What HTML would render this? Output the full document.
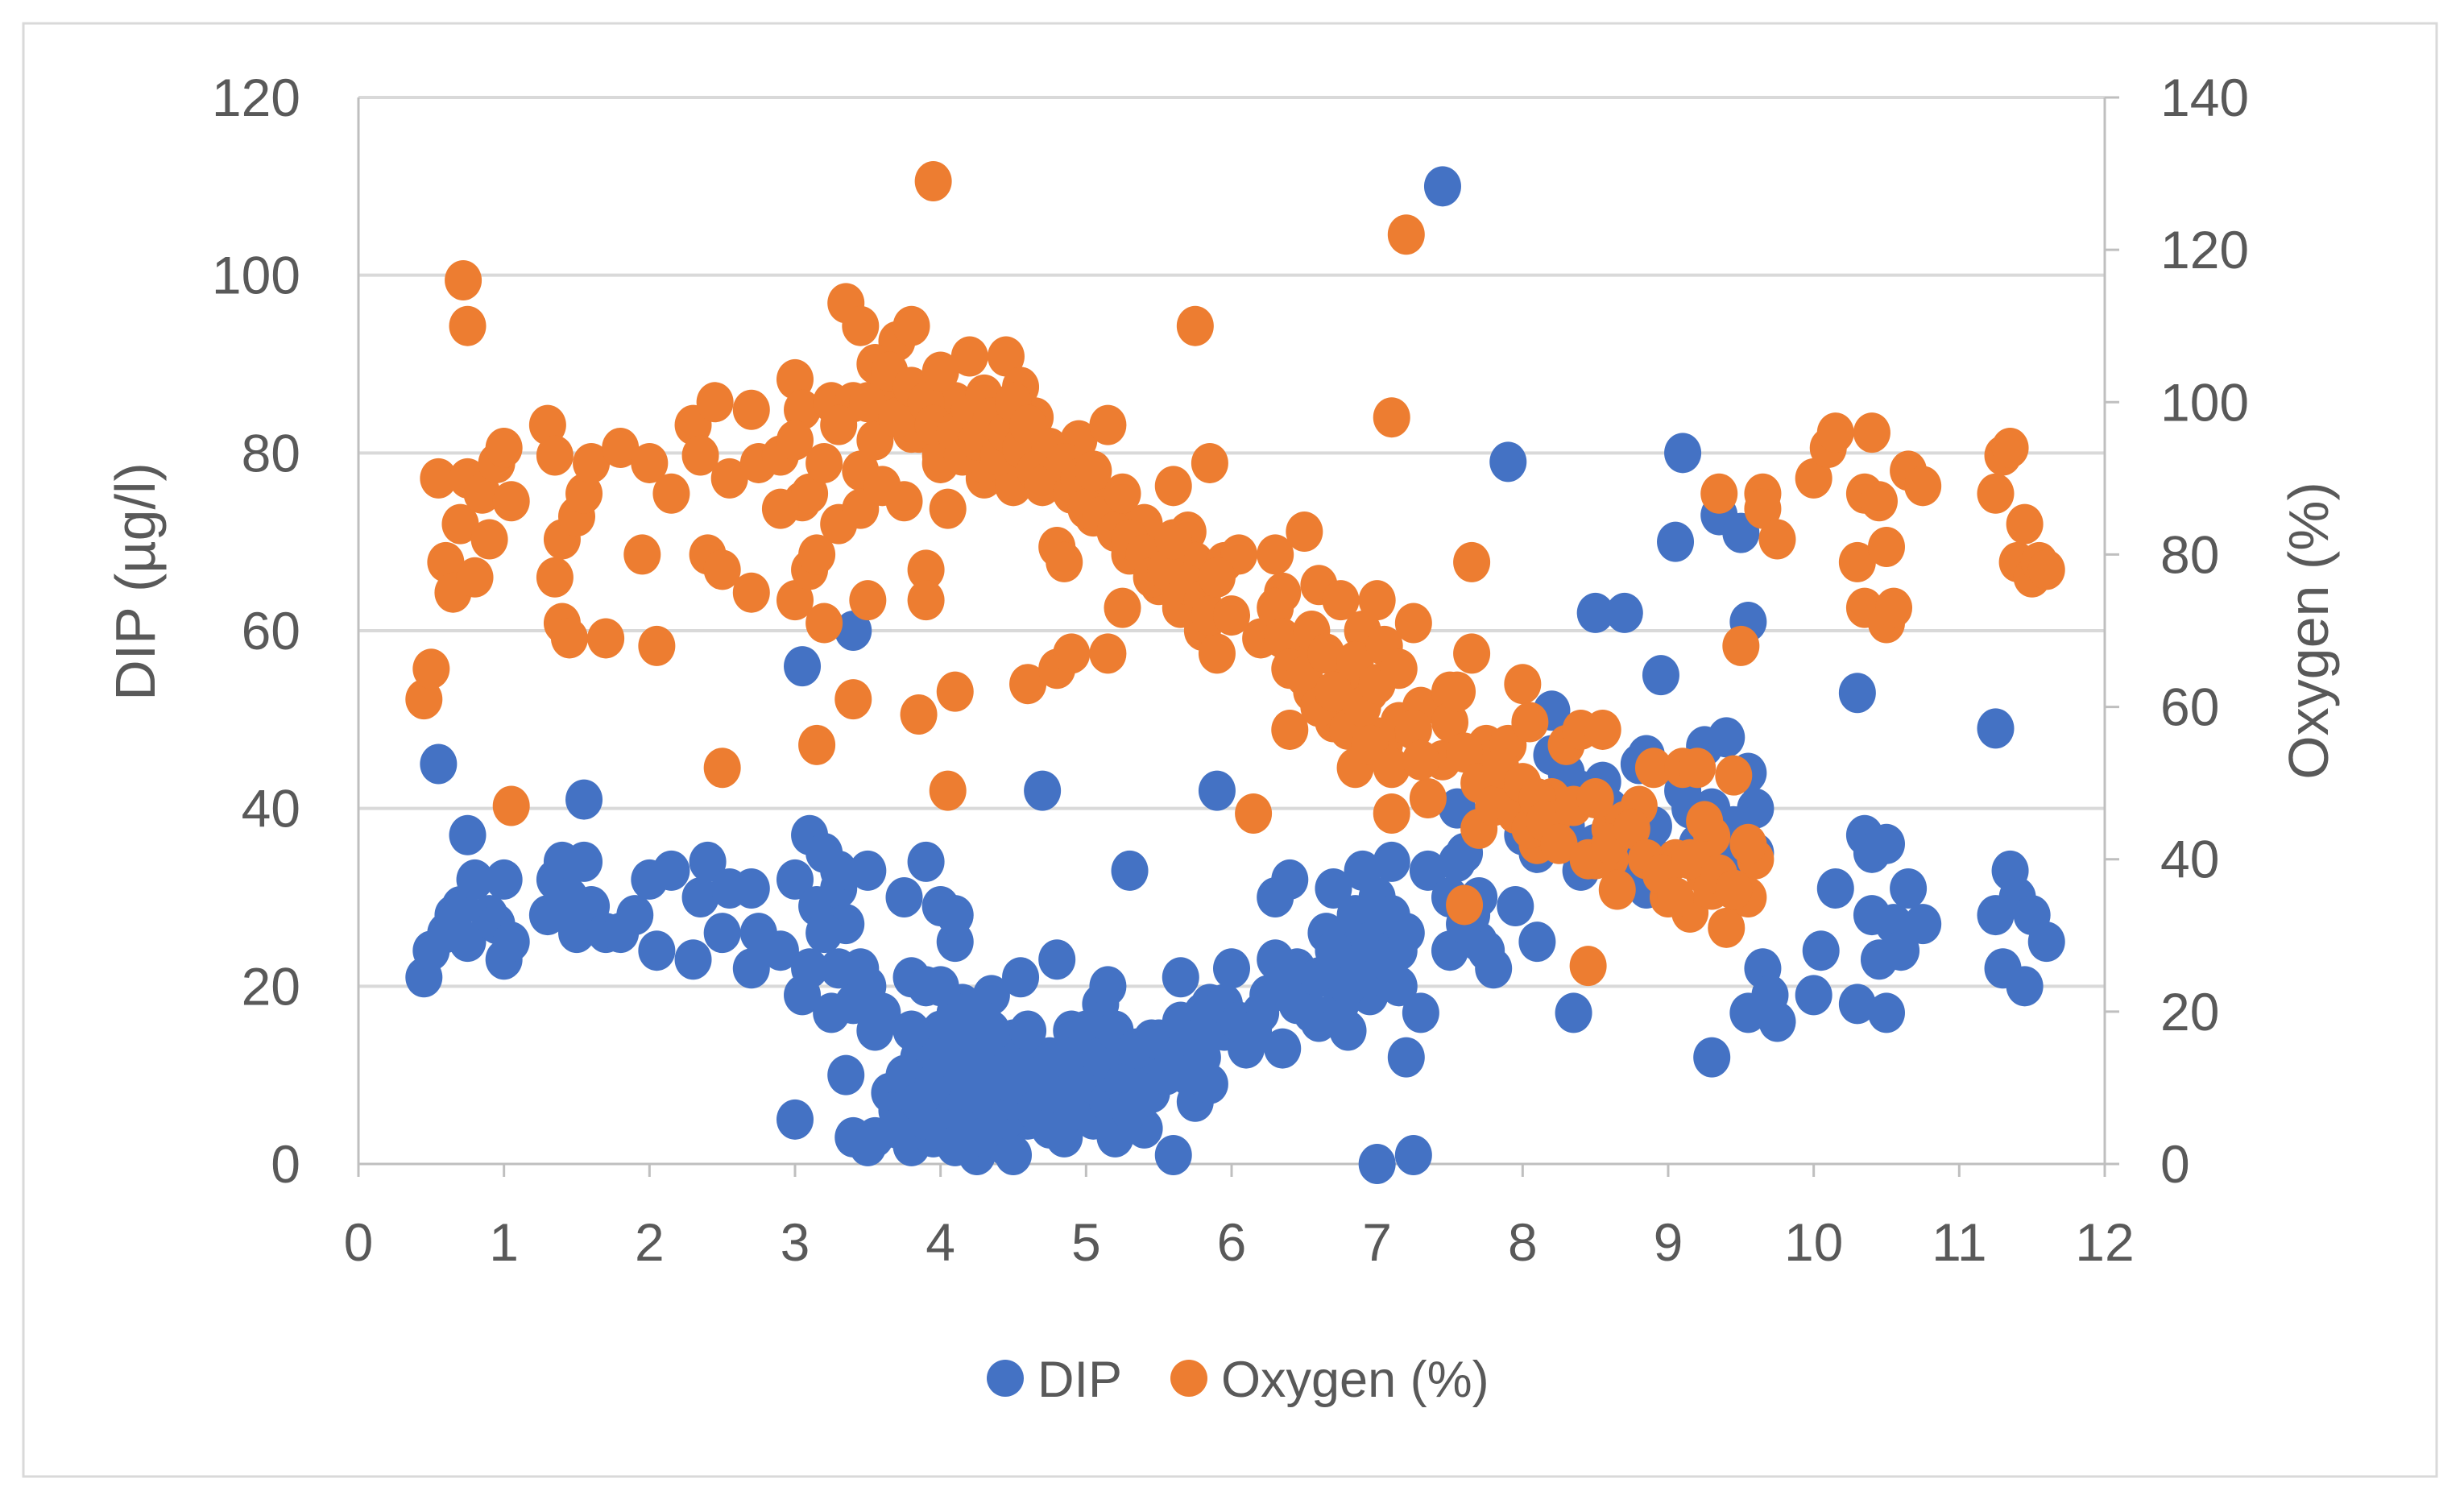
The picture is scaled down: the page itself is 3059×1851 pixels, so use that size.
<!DOCTYPE html>
<html><head><meta charset="utf-8"><style>
html,body{margin:0;padding:0;background:#fff;}
svg{display:block;font-family:"Liberation Sans",sans-serif;}
</style></head><body>
<svg id="chart" width="3059" height="1851" viewBox="0 0 3059 1851">
<rect x="29" y="29" width="2996" height="1804" fill="#fff" stroke="#d9d9d9" stroke-width="3"/>
<g id="grid"></g>
<g id="axes"></g>
<g id="dip"></g>
<g id="oxy"></g>
<text x="192" y="722" transform="rotate(-90 192 722)" text-anchor="middle" font-size="70" fill="#595959">DIP (µg/l)</text>
<text x="2890" y="783" transform="rotate(-90 2890 783)" text-anchor="middle" font-size="70" fill="#595959">Oxygen (%)</text>
<g>
<circle cx="1248" cy="1711" r="23" fill="#4472c4"/>
<text x="1288" y="1734" font-size="63" fill="#595959">DIP</text>
<circle cx="1476" cy="1711" r="23" fill="#ed7d31"/>
<text x="1516" y="1734" font-size="63" fill="#595959">Oxygen (%)</text>
</g>
</svg>
<script>
const xTicks=[0,1,2,3,4,5,6,7,8,9,10,11,12];
const leftTicks=[0,20,40,60,80,100,120];
const rightTicks=[0,20,40,60,80,100,120,140];
const dipX=[0.45,0.5,0.55,0.6,0.65,0.7,0.75,0.75,0.8,0.9,0.95,1.0,1.0,1.05,1.3,1.35,1.4,1.45,1.5,1.55,1.55,1.6,1.7,1.8,1.9,2.0,2.05,2.15,2.3,2.35,2.4,2.5,2.55,2.7,2.7,2.75,2.9,3.0,3.0,3.05,3.05,3.1,3.15,3.2,3.25,3.3,3.35,3.35,3.4,3.4,3.45,3.5,3.5,3.55,3.6,3.65,3.7,3.75,3.8,3.8,3.85,3.9,3.9,3.95,4.0,4.0,4.05,4.1,4.1,4.15,4.2,4.25,4.3,4.35,4.4,4.45,4.5,4.55,4.6,4.65,4.7,4.75,4.8,4.85,4.9,4.95,5.0,5.05,5.1,5.15,5.2,5.25,5.3,5.35,5.4,5.45,5.5,5.6,5.65,5.7,5.75,5.8,5.85,5.9,5.95,6.0,6.1,6.2,6.3,6.3,6.35,6.4,6.45,6.5,6.6,6.65,6.7,6.75,6.8,6.85,6.9,6.95,7.0,7.0,7.05,7.1,7.15,7.2,7.25,7.3,7.35,7.45,7.5,7.55,7.6,7.65,7.7,7.8,7.9,7.95,8.0,8.1,8.2,8.3,8.35,8.4,8.5,8.55,8.7,8.75,8.85,8.85,8.95,9.05,9.1,9.15,9.25,9.3,9.35,9.4,9.45,9.5,9.55,9.55,9.6,9.6,9.65,9.7,9.75,9.55,10.0,10.05,10.15,10.3,10.3,10.35,10.4,10.4,10.45,10.5,10.55,10.5,10.6,10.65,10.75,11.25,11.25,11.3,11.35,11.4,11.45,11.5,11.6,4.0,4.2,4.4,3.9,4.6,4.8,5.0,4.3,4.1,5.2,
3.7,3.75,3.85,3.95,4.0,4.05,4.1,4.15,4.2,4.25,4.3,4.35,4.4,4.45,4.5,4.55,4.6,4.65,4.7,4.75,4.8,4.85,4.9,4.95,5.0,5.05,5.1,5.15,5.2,5.25,5.3,5.35,5.45,5.5,5.55,5.6,5.65,5.7,5.75,5.8,5.85,5.95,6.05,6.15,6.25,6.35,6.45,6.55,6.6,6.7,6.75,6.8,6.85,6.9,6.95,7.0,7.05,7.1,7.15,7.2,7.5,7.55,7.6,7.7,7.75,8.0,8.1,8.2,8.3,8.4,8.5,8.6,8.7,8.8,8.9,9.0,9.1,9.2,9.3,9.4,9.5,3.3,3.4,3.5,3.6,3.2,3.1,3.3,3.55,3.8,4.0,4.1,4.4,4.5,4.2];
const dipY=[21,24,45,26,28,29,37,25,32,28,27,32,23,25,28,32,34,30,26,34,41,29,26,26,28,32,24,33,23,30,34,26,31,22,31,26,24,32,5,19,56,37,29,35,17,31,27,10,60,3,22,33,2,15,90,8,6,30,21,2,12,34,20,3,15,29,8,25,28,18,5,1,12,19,7,2,14,21,5,9,42,12,23,3,15,8,13,5,18,20,3,12,33,10,4,14,11,1,21,12,7,17,9,42,15,22,13,17,30,23,13,32,18,20,16,26,31,22,15,25,33,19,0,27,21,34,24,12,1,17,33,110,24,40,35,28,25,22,79,29,37,25,51,44,17,33,62,43,62,35,46,31,55,70,80,40,47,12,73,48,38,71,61,44,35,40,22,19,16,17,19,24,31,53,18,37,35,28,23,36,27,17,24,31,27,49,28,22,33,30,20,28,25,10,8,11,5,6,9,12,16,4,8,
4,10,7,9,4,12,17,10,14,8,3,15,10,5,9,12,15,6,10,4,8,12,6,10,15,9,12,7,15,9,6,13,8,14,10,12,16,10,14,12,18,18,16,15,19,20,22,17,21,24,18,20,28,22,25,30,23,28,20,26,30,34,27,30,24,40,35,46,38,42,36,40,34,45,38,34,42,36,40,34,38,22,18,20,17,26,22,33,3,15,20,2,3,1,12];
const oxyX=[0.45,0.5,0.55,0.6,0.65,0.7,0.72,0.75,0.75,0.8,0.85,0.9,0.95,1.0,1.05,1.05,1.3,1.35,1.35,1.4,1.4,1.45,1.5,1.55,1.6,1.7,1.8,1.95,2.0,2.05,2.15,2.3,2.35,2.4,2.45,2.5,2.5,2.55,2.7,2.7,2.75,2.9,3.0,3.0,3.05,3.05,3.1,3.15,3.2,3.25,3.3,3.35,3.4,3.4,3.45,3.45,3.5,3.55,3.6,3.7,3.75,3.8,3.85,3.85,3.9,3.9,3.95,4.0,4.05,4.1,4.1,4.05,4.2,4.25,4.3,4.35,4.45,4.5,4.55,4.6,4.65,4.7,4.8,4.8,4.85,4.9,4.95,5.0,5.05,5.15,5.15,5.2,5.25,5.3,5.4,5.5,5.6,5.65,5.7,5.75,5.75,5.8,5.85,5.9,5.95,6.05,6.15,6.2,6.3,6.35,6.4,6.45,6.5,6.55,6.6,6.7,6.75,6.8,6.85,6.9,6.95,7.0,7.05,7.1,7.1,7.15,7.2,7.25,7.3,7.35,7.45,7.5,7.6,7.65,7.65,7.7,7.75,7.8,7.9,8.0,8.05,8.1,8.2,8.3,8.4,8.45,8.5,8.55,8.6,8.7,8.8,8.9,9.0,9.05,9.1,9.15,9.2,9.25,9.3,9.35,9.4,9.45,9.5,9.55,9.6,9.65,9.65,9.75,10.0,10.1,10.15,10.3,10.35,10.35,10.4,10.45,10.5,10.5,10.55,10.65,10.75,11.25,11.3,11.35,11.4,11.45,11.5,11.55,11.6,3.8,4.0,4.2,4.4,3.7,4.3,4.6,5.0,6.9,7.0,8.2,8.6,9.3,
3.5,3.55,3.65,3.7,3.8,3.9,3.95,4.0,4.1,4.15,4.2,4.25,4.3,4.35,4.4,4.45,4.5,4.55,4.6,4.65,4.7,4.75,4.85,4.9,4.95,5.0,5.05,5.1,5.2,5.25,5.3,5.4,5.45,5.55,5.6,5.65,5.7,5.8,5.85,5.9,6.0,6.3,6.35,6.4,6.5,6.55,6.6,6.65,6.7,6.8,6.85,6.9,6.95,7.0,7.05,7.1,7.15,7.25,7.3,7.5,7.55,7.6,7.7,7.8,7.85,7.95,8.0,8.05,8.1,8.15,8.25,8.35,8.45,8.5,8.6,8.65,8.75,8.85,8.95,9.05,9.15,9.25,9.35,9.45,9.55,3.0,3.1,3.2,3.3,2.9,3.15,3.45,3.6];
const oxyY=[61,65,90,79,75,84,116,110,90,77,88,82,92,94,87,47,97,93,77,71,82,69,85,88,92,69,94,80,92,68,88,97,93,80,100,78,52,90,99,75,92,93,103,74,99,87,78,55,71,100,84,113,100,61,110,91,74,95,100,108,87,110,96,59,78,74,129,93,86,62,100,49,106,98,90,95,106,89,102,63,98,93,81,65,79,67,95,88,85,97,67,87,73,80,84,76,89,74,83,110,79,70,92,67,79,80,46,69,80,75,57,67,83,62,76,58,74,65,52,70,62,74,55,98,46,58,122,71,60,48,53,62,34,79,67,44,55,50,55,63,58,42,48,55,57,26,40,57,44,45,47,52,35,40,52,33,52,38,43,88,31,51,68,35,40,88,86,82,90,94,96,79,88,73,96,87,81,71,73,91,89,88,93,94,79,84,77,79,78,96,92,98,94,100,92,96,90,60,56,45,40,36,
100,105,104,98,102,100,97,104,96,93,99,95,101,98,93,96,100,94,97,91,89,94,92,88,90,86,91,85,83,88,82,80,77,78,82,73,76,74,72,77,72,73,69,65,64,70,60,67,62,57,66,60,55,63,68,52,65,57,53,58,62,54,50,47,52,46,50,44,48,45,42,47,40,48,42,36,44,40,38,35,40,45,38,36,42,95,88,92,97,86,80,86,89];
const X0=445,X1=2613,Y0=1445,Y1=121;
const sx=v=>X0+(X1-X0)*v/12;
const syL=v=>Y0+(Y1-Y0)*v/120;
const syR=v=>Y0+(Y1-Y0)*v/140;
const NS='http://www.w3.org/2000/svg';
function mk(parent,tag,attrs){const e=document.createElementNS(NS,tag);for(const k in attrs)e.setAttribute(k,attrs[k]);document.getElementById(parent).appendChild(e);return e;}
leftTicks.forEach(t=>{
  if(t>0){const l=mk('grid','line',{x1:X0,x2:X1,y1:syL(t),y2:syL(t),stroke:'#d9d9d9','stroke-width':4});
  
  }
  const tx=mk('axes','text',{x:373,y:syL(t)+23,'text-anchor':'end','font-size':66,fill:'#595959'});
  tx.textContent=t;
  
  
});
rightTicks.forEach(t=>{
  const tk=mk('axes','line',{x1:X1,x2:X1+18,y1:syR(t),y2:syR(t),stroke:'#bfbfbf','stroke-width':3});
  
  
  const tx=mk('axes','text',{x:2682,y:syR(t)+23,'text-anchor':'start','font-size':66,fill:'#595959'});
  tx.textContent=t;
  
  
});
xTicks.forEach(t=>{
  const tk=mk('axes','line',{x1:sx(t),x2:sx(t),y1:Y0,y2:Y0+16,stroke:'#bfbfbf','stroke-width':3});
  
  
  const tx=mk('axes','text',{x:sx(t),y:1565,'text-anchor':'middle','font-size':66,fill:'#595959'});
  tx.textContent=t;
  
  
});
[[X0,Y0,X1,Y0,'x-axis-line'],[X0,Y0,X0,Y1,'left-axis-line'],[X1,Y0,X1,Y1,'right-axis-line']].forEach(a=>{
  const l=mk('axes','line',{x1:a[0],y1:a[1],x2:a[2],y2:a[3],stroke:'#bfbfbf','stroke-width':3});
  
  
});
dipX.forEach((v,i)=>{
  const c=mk('dip','ellipse',{cx:sx(v),cy:syL(dipY[i]),rx:23,ry:25,fill:'#4472c4'});
  
  
});
oxyX.forEach((v,i)=>{
  const c=mk('oxy','ellipse',{cx:sx(v),cy:syR(oxyY[i]),rx:23,ry:25,fill:'#ed7d31'});
  
  
});
</script>
</body></html>
